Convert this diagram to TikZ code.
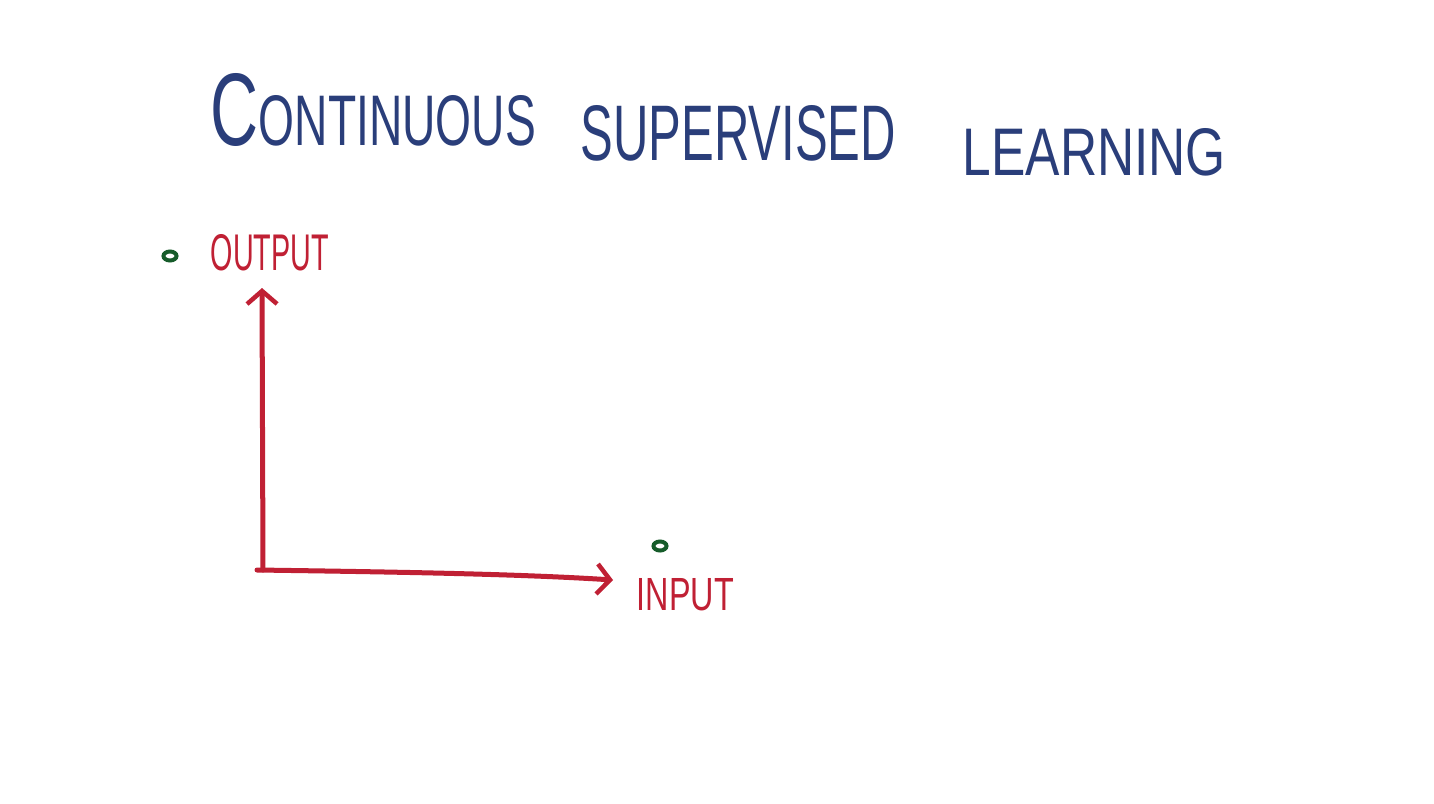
\documentclass[tikz,border=0pt]{standalone}
\usepackage{fontspec}
\setmainfont{Liberation Sans}
\usetikzlibrary{arrows.meta,shapes.geometric}
\definecolor{penblue}{RGB}{42,62,122}
\definecolor{penred}{RGB}{192,32,52}
\definecolor{pengreen}{RGB}{22,92,42}
\tikzset{
 title/.style={text=penblue,inner sep=0pt,anchor=base west},
 lab/.style={text=penred,inner sep=0pt,anchor=base west},
 axis/.style={draw=penred,line width=0.05cm,line cap=round,line join=round,-{Straight Barb[length=0.13cm,width=0.3cm,line width=0.045cm]}},
 dot/.style={ellipse,draw=pengreen,line width=0.04cm,minimum width=0.13cm,minimum height=0.09cm,inner sep=0pt}
}
\begin{document}
\begin{tikzpicture}[x=0.01cm,y=-0.01cm,line cap=round]
\useasboundingbox[fill=white] (0,0) rectangle (1434,803);
\path
(263,570) coordinate (O)
(262,288) coordinate (Y)
(613,580) coordinate (X)
;
\node[title] (w1) at (210,145) {\resizebox{3.25cm}{0.72cm}{\Large C\normalsize ONTINUOUS}};
\node[title] (w2) at (580,160) {\resizebox{3.15cm}{0.55cm}{SUPERVISED}};
\node[title] (w3) at (962,175) {\resizebox{2.63cm}{0.47cm}{LEARNING}};
\node[lab] (out) at (210,270) {\resizebox{1.18cm}{0.36cm}{OUTPUT}};
\node[lab] (in) at (636,610) {\resizebox{0.97cm}{0.32cm}{INPUT}};
\node[dot] (d1) at (170,256) {};
\node[dot] (d2) at (660,546) {};
\draw[axis] (O) -- (Y);
\draw[axis] ([xshift=-0.06cm]O) .. controls (400,572) and (520,574) .. (X);
\end{tikzpicture}
\end{document}
